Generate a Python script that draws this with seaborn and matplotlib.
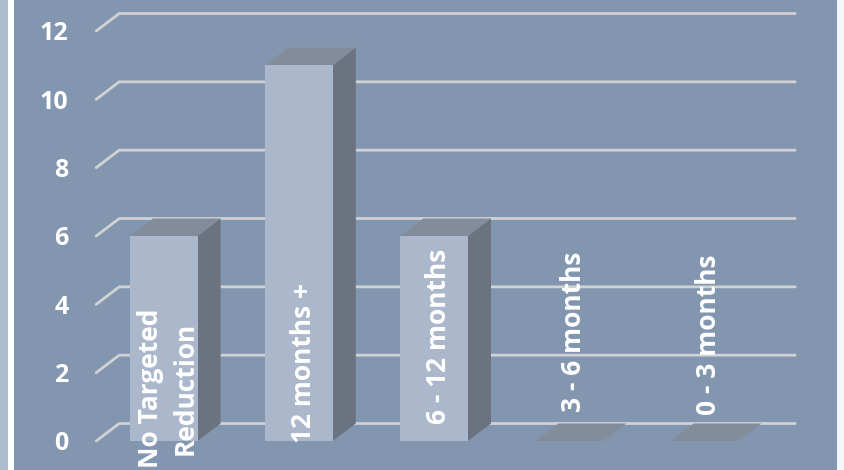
import matplotlib
matplotlib.use("Agg")
import matplotlib.pyplot as plt
from matplotlib.patches import Polygon, Rectangle
import pandas as pd
import seaborn as sns

categories = ["No Targeted\nReduction", "12 months +", "6 - 12 months", "3 - 6 months", "0 - 3 months"]
counts = [6, 11, 6, 0, 0]
y_ticks = [0, 2, 4, 6, 8, 10, 12]
label_centres = [1.55, 2.28, 3.07, 3.2, 3.11]

W, H = 844, 470
WALL = "#8396B0"
FRONT = "#ABB7CA"
SIDE = "#6C7380"
TOP = "#828C9A"
GRID = "#D0D2D4"
FONT = "Open Sans"

sns.set_theme(style="white")
fig = plt.figure(figsize=(W / 100, H / 100), dpi=100, facecolor=WALL)

# Slide border on the left and right edges
fig.add_artist(Rectangle((0, 0), 8 / W, 1, transform=fig.transFigure, color="#AEBCD0", lw=0))
fig.add_artist(Rectangle((8 / W, 0), 6 / W, 1, transform=fig.transFigure, color="white", lw=0))
fig.add_artist(Rectangle((837 / W, 0), 7 / W, 1, transform=fig.transFigure, color="#F4F6F9", lw=0))

ax = fig.add_axes([96.2 / W, (H - 441) / H, 676 / W, 410 / H])
ax.patch.set_alpha(0)

df = pd.DataFrame({"category": categories, "count": counts})
bar_width = 0.5
sns.barplot(data=df, x="category", y="count", color=FRONT, saturation=1, width=bar_width,
            ax=ax, zorder=3, linewidth=0)
ax.set_xlim(-0.5, 4.5)
ax.set_ylim(0, 12)
ax.set_xlabel("")
ax.set_ylabel("")
sns.despine(ax=ax, left=True, bottom=True)

# Oblique depth of the pseudo-3D box, in data units
dx = 23 / 135.2
dy = 17.5 / 34.17

# Back-wall gridlines with their short diagonal floor segments
for t in y_ticks:
    ax.plot([-0.5, -0.5 + dx, 4.5 + dx], [t, t + dy, t + dy], color=GRID, lw=2.0,
            clip_on=False, zorder=1, solid_capstyle="round")

# Side and top faces of each column
for i, v in enumerate(counts):
    x0, x1 = i - bar_width / 2, i + bar_width / 2
    if v > 0:
        ax.add_patch(Polygon([(x1, 0), (x1 + dx, dy), (x1 + dx, v + dy), (x1, v)],
                             closed=True, fc=SIDE, ec="none", clip_on=False, zorder=2))
    ax.add_patch(Polygon([(x0, v), (x0 + dx, v + dy), (x1 + dx, v + dy), (x1, v)],
                         closed=True, fc=TOP, ec="none", clip_on=False, zorder=2))

ax.set_yticks(y_ticks)
ax.set_yticklabels([str(t) for t in y_ticks], fontfamily=FONT, fontweight="bold",
                   fontsize=18, color="white")
ax.tick_params(axis="y", length=0, pad=20)
ax.tick_params(axis="x", length=0, labelbottom=False)

# Category names run vertically over the columns
for i, (name, c) in enumerate(zip(categories, label_centres)):
    ax.text(i + 0.03, c, name, rotation=90, ha="center", va="center", multialignment="center",
            color="white", fontfamily=FONT, fontweight="bold", fontsize=19,
            linespacing=1.35, clip_on=False, zorder=5)

fig.savefig("out.png", dpi=100, facecolor=WALL)
